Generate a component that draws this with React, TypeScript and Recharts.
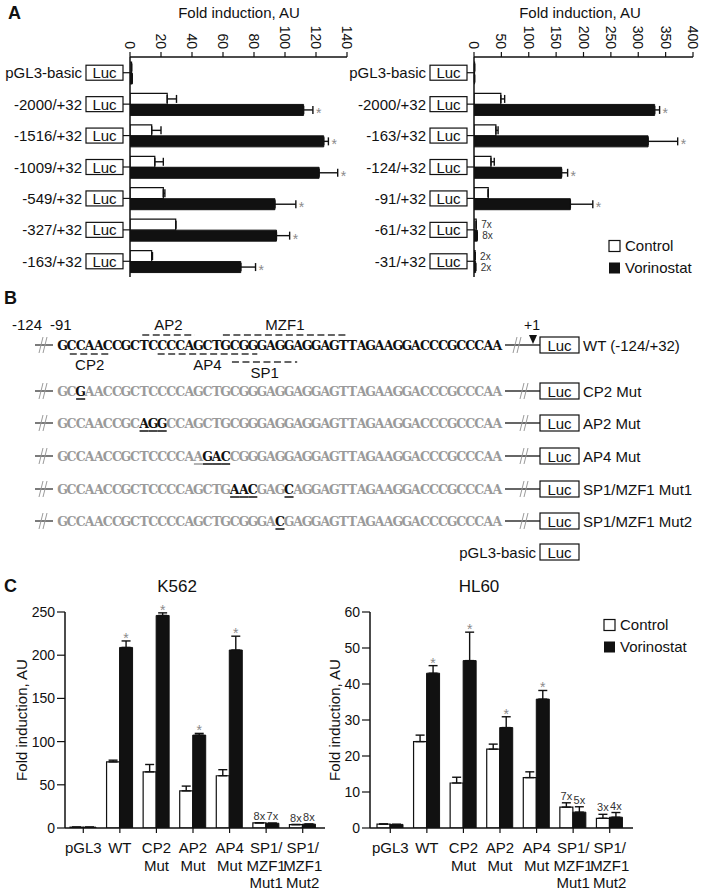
import React from "react";
import { Bar, BarChart, ErrorBar, LabelList, XAxis, YAxis } from "recharts";

const FONT = "'Liberation Sans', Arial, Helvetica, sans-serif";
const INK = "#111";
const STAR = "#8a8a8a";

// Panel A, left: 5' deletion constructs (fold induction, AU)
const aLeftCats = ["pGL3-basic", "-2000/+32", "-1516/+32", "-1009/+32", "-549/+32", "-327/+32", "-163/+32"];
const aLeftCtrl = [1, 24, 14, 16, 21.5, 29.5, 14];
const aLeftCtrlErr = [0, 6, 6, 5.5, 1, 0, 0.5];
const aLeftVor = [1.5, 112, 125, 122, 93.5, 94.5, 71.5];
const aLeftVorErr = [0, 6, 3, 12, 13.5, 8.5, 9.5];
const aLeftStar = [false, true, true, true, true, true, true];
const aLeftTicks = [0, 20, 40, 60, 80, 100, 120, 140];

// Panel A, right: shorter constructs
const aRightCats = ["pGL3-basic", "-2000/+32", "-163/+32", "-124/+32", "-91/+32", "-61/+32", "-31/+32"];
const aRightCtrl = [1, 49, 40, 31, 26, 4, 2];
const aRightCtrlErr = [0, 7, 4, 6, 0, 0, 0];
const aRightVor = [1, 330, 318, 160, 176, 6, 3];
const aRightVorErr = [0, 9, 54, 11, 41, 0, 0];
const aRightStar = [false, true, true, true, true, false, false];
const aRightCtrlNote = ["", "", "", "", "", "7x", "2x"];
const aRightVorNote = ["", "", "", "", "", "8x", "2x"];
const aRightTicks = [0, 50, 100, 150, 200, 250, 300, 350, 400];

// Panel B: -91/+32 region, WT and site mutants
const wtSeq = "GCCAACCGCTCCCCAGCTGCGGGAGGAGGAGTTAGAAGGACCCGCCCAA";
const mutNames = ["CP2 Mut", "AP2 Mut", "AP4 Mut", "SP1/MZF1 Mut1", "SP1/MZF1 Mut2"];
const mutSeqs = [
  "GCGAACCGCTCCCCAGCTGCGGGAGGAGGAGTTAGAAGGACCCGCCCAA",
  "GCCAACCGCAGGCCAGCTGCGGGAGGAGGAGTTAGAAGGACCCGCCCAA",
  "GCCAACCGCTCCCCAAGACCGGGAGGAGGAGTTAGAAGGACCCGCCCAA",
  "GCCAACCGCTCCCCAGCTGAACGAGCAGGAGTTAGAAGGACCCGCCCAA",
  "GCCAACCGCTCCCCAGCTGCGGGACGAGGAGTTAGAAGGACCCGCCCAA",
];
const mutBold = [[2], [9, 10, 11], [16, 17, 18], [19, 20, 21, 25], [24]];
const mutUnder = [[2], [9, 10, 11], [15, 16, 17, 18], [19, 20, 21, 25], [24]];
const siteNames = ["AP2", "MZF1", "CP2", "AP4", "SP1"];
const siteFrom = [9.3, 18.2, 1.3, 11, 19.2];
const siteTo = [15.1, 31.9, 5.7, 22, 26.4];
const siteTier = [0, 0, 1, 1, 2];

// Panel C: mutant constructs in K562 and HL60
const cCats = ["pGL3", "WT", "CP2\nMut", "AP2\nMut", "AP4\nMut", "SP1/\nMZF1\nMut1", "SP1/\nMZF1\nMut2"];
const k562Ctrl = [1, 76.5, 65, 43, 60.5, 6, 4];
const k562CtrlErr = [0, 2, 8.5, 5.5, 7, 0, 0];
const k562Vor = [1, 209, 246, 107.5, 206, 5.5, 4.5];
const k562VorErr = [0, 7.5, 3, 2, 16, 0, 0];
const k562Star = [false, true, true, true, true, false, false];
const k562CtrlNote = ["", "", "", "", "", "8x", "8x"];
const k562VorNote = ["", "", "", "", "", "7x", "8x"];
const k562Ticks = [0, 50, 100, 150, 200, 250];

const hl60Ctrl = [1.1, 24, 12.5, 21.9, 14, 5.8, 2.7];
const hl60CtrlErr = [0, 1.8, 1.6, 1.4, 1.6, 1.2, 1.1];
const hl60Vor = [1, 43, 46.5, 27.9, 35.8, 4.4, 3];
const hl60VorErr = [0, 2.1, 7.9, 3, 2.4, 1.5, 1.3];
const hl60Star = [false, true, true, true, true, false, false];
const hl60CtrlNote = ["", "", "", "", "", "7x", "3x"];
const hl60VorNote = ["", "", "", "", "", "5x", "4x"];
const hl60Ticks = [0, 10, 20, 30, 40, 50, 60];

type Row = {
  name: string;
  ctrl: number;
  vor: number;
  ctrlErr: number;
  vorErr: number;
  star: boolean;
  ctrlNote: string;
  vorNote: string;
};

const makeRows = (
  cats: string[],
  ctrl: number[],
  ctrlErr: number[],
  vor: number[],
  vorErr: number[],
  star: boolean[],
  ctrlNote?: string[],
  vorNote?: string[]
): Row[] =>
  cats.map((name, i) => ({
    name,
    ctrl: ctrl[i],
    vor: vor[i],
    ctrlErr: ctrlErr[i],
    vorErr: vorErr[i],
    star: star[i],
    ctrlNote: ctrlNote?.[i] ?? "",
    vorNote: vorNote?.[i] ?? "",
  }));

const aLeftRows = makeRows(aLeftCats, aLeftCtrl, aLeftCtrlErr, aLeftVor, aLeftVorErr, aLeftStar);
const aRightRows = makeRows(aRightCats, aRightCtrl, aRightCtrlErr, aRightVor, aRightVorErr, aRightStar, aRightCtrlNote, aRightVorNote);
const k562Rows = makeRows(cCats, k562Ctrl, k562CtrlErr, k562Vor, k562VorErr, k562Star, k562CtrlNote, k562VorNote);
const hl60Rows = makeRows(cCats, hl60Ctrl, hl60CtrlErr, hl60Vor, hl60VorErr, hl60Star, hl60CtrlNote, hl60VorNote);

const geom = (p: any) => (p.viewBox && p.viewBox.width != null ? p.viewBox : p);

// notes / asterisks next to horizontal bars (panel A)
function hMarks(rows: Row[], key: "ctrl" | "vor") {
  return (p: any) => {
    const r = rows.find((d) => d.name === p.value);
    if (!r) return null;
    const { x, y, width, height } = geom(p);
    const v = r[key];
    const e = key === "ctrl" ? r.ctrlErr : r.vorErr;
    const end = x + (width * (v + e)) / v;
    const cy = y + height / 2;
    const note = key === "ctrl" ? r.ctrlNote : r.vorNote;
    if (note)
      return (
        <text x={end + 5} y={cy + 3.5} fontSize={10} fill="#333">
          {note}
        </text>
      );
    if (key === "vor" && r.star)
      return (
        <text x={end + 3} y={cy + 8} fontSize={14} fill={STAR}>
          *
        </text>
      );
    return null;
  };
}

// notes / asterisks above vertical bars (panel C)
function vMarks(rows: Row[], key: "ctrl" | "vor") {
  return (p: any) => {
    const r = rows.find((d) => d.name === p.value);
    if (!r) return null;
    const { x, y, width, height } = geom(p);
    const v = r[key];
    const e = key === "ctrl" ? r.ctrlErr : r.vorErr;
    const top = y - (height * e) / v;
    const cx = x + width / 2;
    const note = key === "ctrl" ? r.ctrlNote : r.vorNote;
    if (note)
      return (
        <text x={cx} y={top - 3} textAnchor="middle" fontSize={11} fill="#333">
          {note}
        </text>
      );
    if (key === "vor" && r.star)
      return (
        <text x={cx} y={top + 2} textAnchor="middle" fontSize={14} fill={STAR}>
          *
        </text>
      );
    return null;
  };
}

function RotTick({ x, y, payload }: any) {
  return (
    <text transform={`translate(${x},${y}) rotate(90)`} textAnchor="end" dy="0.35em" fontSize={14} fill={INK}>
      {payload.value}
    </text>
  );
}

function ConstructTick({ x, y, payload }: any) {
  return (
    <g>
      <text x={x - 48} y={y} textAnchor="end" dominantBaseline="central" fontSize={15} fill={INK}>
        {payload.value}
      </text>
      <rect x={x - 44} y={y - 7.5} width={37} height={15} fill="#fff" stroke={INK} strokeWidth={1.2} />
      <text x={x - 25.5} y={y} textAnchor="middle" dominantBaseline="central" fontSize={15} fill={INK}>
        Luc
      </text>
      <line x1={x - 7} x2={x} y1={y} y2={y} stroke={INK} strokeWidth={1.2} />
    </g>
  );
}

function CatTick({ x, y, payload }: any) {
  const lines = String(payload.value).split("\n");
  return (
    <text textAnchor="middle" fontSize={15} fill={INK}>
      {lines.map((l, i) => (
        <tspan key={i} x={x} y={y + 17 + i * 17.5}>
          {l}
        </tspan>
      ))}
    </text>
  );
}

function PromoterChart({ rows, ticks, left, width, yw, mr }: { rows: Row[]; ticks: number[]; left: number; width: number; yw: number; mr: number }) {
  return (
    <div style={{ position: "absolute", left, top: 0 }}>
      <BarChart
        width={width}
        height={290}
        layout="vertical"
        data={rows}
        margin={{ top: 17, right: mr, bottom: 13, left: 0 }}
        barGap={0}
        barSize={11}
      >
        <XAxis
          type="number"
          orientation="top"
          domain={[0, ticks[ticks.length - 1]]}
          ticks={ticks}
          interval={0}
          height={40}
          tickSize={5}
          tickMargin={3}
          tick={<RotTick />}
          axisLine={{ stroke: INK, strokeWidth: 1.5 }}
          tickLine={{ stroke: INK, strokeWidth: 1.2 }}
          allowDataOverflow
        />
        <YAxis
          type="category"
          dataKey="name"
          width={yw}
          interval={0}
          tickSize={0}
          tickMargin={0}
          tick={<ConstructTick />}
          tickLine={false}
          axisLine={{ stroke: INK, strokeWidth: 1.5 }}
        />
        <Bar dataKey="ctrl" fill="#fff" stroke={INK} strokeWidth={1.2} isAnimationActive={false}>
          <ErrorBar dataKey={(d: Row) => [0, d.ctrlErr]} direction="x" width={4} stroke={INK} strokeWidth={1.4} isAnimationActive={false} />
          <LabelList dataKey="name" content={hMarks(rows, "ctrl")} />
        </Bar>
        <Bar dataKey="vor" fill={INK} stroke={INK} strokeWidth={1} isAnimationActive={false}>
          <ErrorBar dataKey={(d: Row) => [0, d.vorErr]} direction="x" width={4} stroke={INK} strokeWidth={1.4} isAnimationActive={false} />
          <LabelList dataKey="name" content={hMarks(rows, "vor")} />
        </Bar>
      </BarChart>
    </div>
  );
}

function MutantChart({
  rows,
  ticks,
  left,
  width,
  yw,
  mr,
  padL,
  padR,
  titleOffset,
}: {
  rows: Row[];
  ticks: number[];
  left: number;
  width: number;
  yw: number;
  mr: number;
  padL: number;
  padR: number;
  titleOffset: number;
}) {
  return (
    <div style={{ position: "absolute", left, top: 600 }}>
      <BarChart width={width} height={290} data={rows} margin={{ top: 12, right: mr, bottom: 0, left: 0 }} barGap={0} barSize={13}>
        <XAxis
          dataKey="name"
          height={62}
          interval={0}
          tick={<CatTick />}
          tickSize={5}
          tickMargin={3}
          padding={{ left: padL, right: padR }}
          axisLine={{ stroke: INK, strokeWidth: 1.5 }}
          tickLine={{ stroke: INK, strokeWidth: 1.2 }}
        />
        <YAxis
          type="number"
          domain={[0, ticks[ticks.length - 1]]}
          ticks={ticks}
          interval={0}
          width={yw}
          tickSize={8}
          tickMargin={2}
          tick={{ fontSize: 14, fill: INK }}
          axisLine={{ stroke: INK, strokeWidth: 1.5 }}
          tickLine={{ stroke: INK, strokeWidth: 1.2 }}
          allowDataOverflow
          label={{
            value: "Fold induction, AU",
            angle: -90,
            position: "insideLeft",
            offset: titleOffset,
            style: { textAnchor: "middle", fontSize: 15, fill: INK },
          }}
        />
        <Bar dataKey="ctrl" fill="#fff" stroke={INK} strokeWidth={1.2} isAnimationActive={false}>
          <ErrorBar dataKey={(d: Row) => [0, d.ctrlErr]} direction="y" width={4.5} stroke={INK} strokeWidth={1.4} isAnimationActive={false} />
          <LabelList dataKey="name" content={vMarks(rows, "ctrl")} />
        </Bar>
        <Bar dataKey="vor" fill={INK} stroke={INK} strokeWidth={1} isAnimationActive={false}>
          <ErrorBar dataKey={(d: Row) => [0, d.vorErr]} direction="y" width={4.5} stroke={INK} strokeWidth={1.4} isAnimationActive={false} />
          <LabelList dataKey="name" content={vMarks(rows, "vor")} />
        </Bar>
      </BarChart>
    </div>
  );
}

// ---- panel B drawing helpers
const SEQ_X = 58;
const PITCH = 9.06;
const charX = (i: number) => SEQ_X + PITCH * (i + 0.5);

function Breaks({ x, y }: { x: number; y: number }) {
  return (
    <g stroke="#9a9a9a" strokeWidth={1}>
      <line x1={x} y1={y + 8} x2={x + 4} y2={y - 8} />
      <line x1={x + 4} y1={y + 8} x2={x + 8} y2={y - 8} />
    </g>
  );
}

function LucBox({ x, y }: { x: number; y: number }) {
  return (
    <g>
      <rect x={x} y={y - 8} width={39} height={16} fill="#fff" stroke={INK} strokeWidth={1.2} />
      <text x={x + 19.5} y={y} textAnchor="middle" dominantBaseline="central" fontSize={15} fill={INK}>
        Luc
      </text>
    </g>
  );
}

function SeqRow({ seq, y, bold, under, wt, label }: { seq: string; y: number; bold: number[]; under: number[]; wt: boolean; label: string }) {
  const base = y + 5;
  return (
    <g>
      <line x1={35} x2={53} y1={y} y2={y} stroke="#333" strokeWidth={1.3} />
      <Breaks x={39} y={y} />
      {/* one text per row, each base placed on a fixed pitch */}
      <text y={base} textAnchor="middle" fontFamily="'DejaVu Serif', serif" fontWeight="bold" fontSize={12.5}>
        {seq.split("").map((c, i) => (
          <tspan key={i} x={charX(i)} fill={wt || bold.includes(i) ? INK : "#9a9a9a"}>
            {c}
          </tspan>
        ))}
      </text>
      {under.map((i) => (
        <line
          key={"u" + i}
          x1={SEQ_X + PITCH * i}
          x2={SEQ_X + PITCH * (i + 1)}
          y1={base + 3}
          y2={base + 3}
          stroke={bold.includes(i) ? INK : "#9a9a9a"}
          strokeWidth={1.5}
        />
      ))}
      <line x1={505} x2={540} y1={y} y2={y} stroke="#333" strokeWidth={1.3} />
      <Breaks x={wt ? 513 : 520} y={y} />
      <LucBox x={540} y={y} />
      <text x={583} y={y} dominantBaseline="central" fontSize={15} fill={INK}>
        {label}
      </text>
    </g>
  );
}

function PanelB() {
  const wtY = 345;
  const mutY = [391, 423, 456, 489, 521];
  const tierY = [335, 354, 362];
  const tierText = [330, 370, 378];
  return (
    <g>
      <text x={12} y={330} fontSize={15} fill={INK}>
        -124
      </text>
      <text x={50} y={330} fontSize={15} fill={INK}>
        -91
      </text>
      {siteNames.map((n, k) => {
        const x1 = SEQ_X + PITCH * siteFrom[k];
        const x2 = SEQ_X + PITCH * siteTo[k];
        return (
          <g key={n}>
            <line x1={x1} x2={x2} y1={tierY[siteTier[k]]} y2={tierY[siteTier[k]]} stroke="#333" strokeWidth={1.5} strokeDasharray="7 3.5" />
            <text x={(x1 + x2) / 2} y={tierText[siteTier[k]]} textAnchor="middle" fontSize={15} fill={INK}>
              {n}
            </text>
          </g>
        );
      })}
      <SeqRow seq={wtSeq} y={wtY} bold={[]} under={[]} wt label="WT (-124/+32)" />
      <text x={532} y={330} textAnchor="middle" fontSize={14} fill={INK}>
        +1
      </text>
      <polygon points="529,335 537,335 533,344" fill={INK} />
      {mutNames.map((n, k) => (
        <SeqRow key={n} seq={mutSeqs[k]} y={mutY[k]} bold={mutBold[k]} under={mutUnder[k]} wt={false} label={n} />
      ))}
      <text x={536} y={552} textAnchor="end" dominantBaseline="central" fontSize={15} fill={INK}>
        pGL3-basic
      </text>
      <LucBox x={540} y={552} />
    </g>
  );
}

function LegendKey({ x, y }: { x: number; y: number }) {
  return (
    <g fontSize={15} fill={INK}>
      <rect x={x} y={y - 5.5} width={11} height={11} fill="#fff" stroke={INK} strokeWidth={1.2} />
      <text x={x + 16} y={y + 5.4}>
        Control
      </text>
      <rect x={x} y={y + 16.5} width={11} height={11} fill={INK} />
      <text x={x + 16} y={y + 27.4}>
        Vorinostat
      </text>
    </g>
  );
}

export default function App() {
  return (
    <div style={{ position: "absolute", left: 0, top: 0, width: 702, height: 890, background: "#fff", fontFamily: FONT, color: INK }}>
      <svg width={702} height={890} style={{ position: "absolute", left: 0, top: 0 }}>
        <g fontFamily={FONT}>
          <text x={8} y={19} fontSize={18} fontWeight="bold" fill={INK}>
            A
          </text>
          <text x={4} y={304} fontSize={18} fontWeight="bold" fill={INK}>
            B
          </text>
          <text x={4} y={592} fontSize={18} fontWeight="bold" fill={INK}>
            C
          </text>
          <text x={239} y={18} textAnchor="middle" fontSize={15} fill={INK}>
            Fold induction, AU
          </text>
          <text x={580} y={18} textAnchor="middle" fontSize={15} fill={INK}>
            Fold induction, AU
          </text>
          <LegendKey x={609} y={246} />
          <PanelB />
          <text x={177} y={592} textAnchor="middle" fontSize={17} fill={INK}>
            K562
          </text>
          <text x={479} y={592} textAnchor="middle" fontSize={17} fill={INK}>
            HL60
          </text>
          <LegendKey x={604} y={625} />
        </g>
      </svg>
      <PromoterChart rows={aLeftRows} ticks={aLeftTicks} left={0} width={362} yw={130} mr={15} />
      <PromoterChart rows={aRightRows} ticks={aRightTicks} left={338} width={364} yw={136} mr={9} />
      <MutantChart rows={k562Rows} ticks={k562Ticks} left={0} width={340} yw={65} mr={15} padL={0} padR={4} titleOffset={22} />
      <MutantChart rows={hl60Rows} ticks={hl60Ticks} left={320} width={382} yw={50} mr={69} padL={2} padR={5} titleOffset={15} />
    </div>
  );
}
